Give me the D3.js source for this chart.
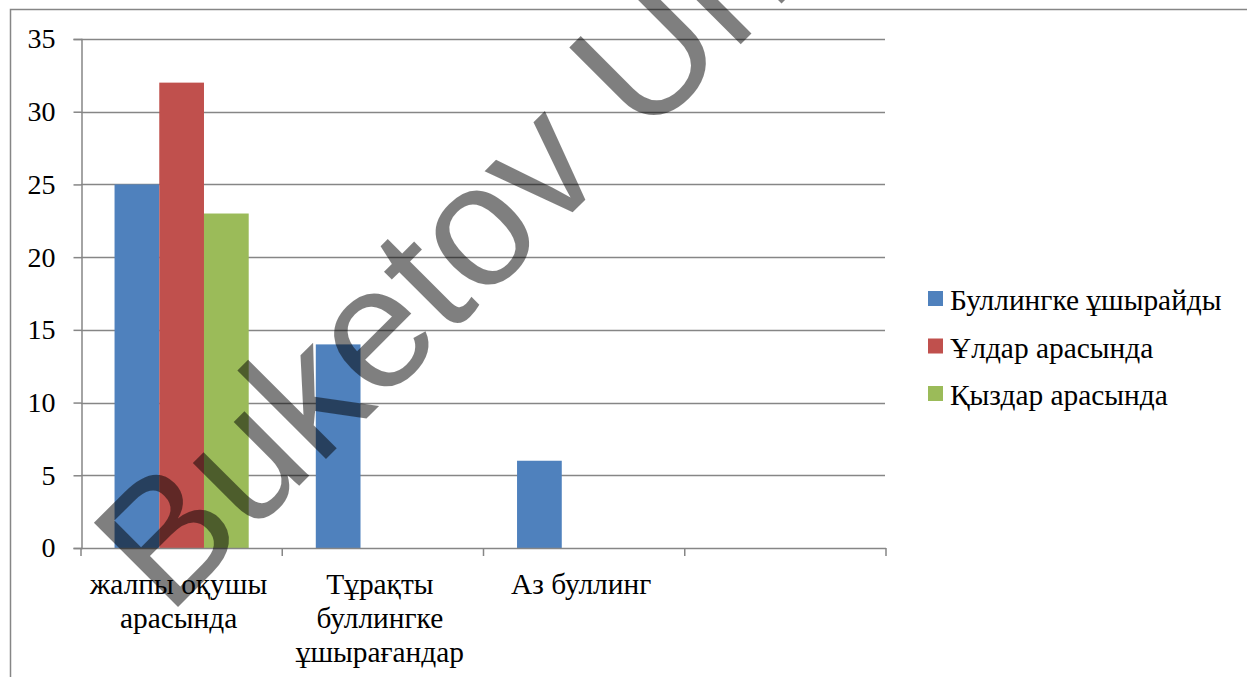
<!DOCTYPE html>
<html>
<head>
<meta charset="utf-8">
<script src="https://cdn.jsdelivr.net/npm/d3@7"></script>
<style>
  body { margin: 0; background: #fff; }
  svg { display: block; }
</style>
</head>
<body>
<div id="chart"></div>
<script>
// Categories (line breaks as in the original axis labels)
const categories = ["жалпы оқушы\nарасында", "Тұрақты\nбуллингке\nұшырағандар", "Аз буллинг", ""];
const seriesNames = ["Буллингке ұшырайды", "Ұлдар арасында", "Қыздар арасында"];
const bullied = [25, 14, 6, null];
const boys = [32, null, null, null];
const girls = [23, null, null, null];
const yTicks = [0, 5, 10, 15, 20, 25, 30, 35];

const colors = ["#4F81BD", "#C0504D", "#9BBB59"];
const grid_color = "#868686";
const serif = "'Liberation Serif', 'Times New Roman', serif";
const label_size = 29.4;

const W = 1247, H = 677;
const plot = {left: 81, right: 886, top: 39, bottom: 548};

const svg = d3.select("#chart").append("svg")
  .attr("width", W).attr("height", H);

svg.append("rect").attr("width", W).attr("height", H).attr("fill", "#fff");

// outer chart border (right and bottom run off the picture)
svg.append("rect")
  .attr("x", 10.5).attr("y", 9.5)
  .attr("width", W + 20).attr("height", H + 20)
  .attr("fill", "none").attr("stroke", grid_color).attr("stroke-width", 1.5);

const y = d3.scaleLinear().domain([0, 35]).range([plot.bottom, plot.top]);
const x0 = d3.scaleBand().domain(categories).range([plot.left, plot.right]);
const x1 = d3.scaleBand().domain(seriesNames)
  .range([0, x0.bandwidth()]).paddingOuter(0.75).paddingInner(0);

// gridlines
svg.append("g").selectAll("line")
  .data(yTicks.filter(d => d > 0))
  .join("line")
  .attr("x1", plot.left).attr("x2", plot.right - 1)
  .attr("y1", d => Math.round(y(d)) + 0.5).attr("y2", d => Math.round(y(d)) + 0.5)
  .attr("stroke", grid_color).attr("stroke-width", 1.5);

// bars
const values = [bullied, boys, girls];
const rows = [];
categories.forEach((c, i) => {
  seriesNames.forEach((s, j) => {
    if (values[j][i] != null) rows.push({cat: c, series: s, value: values[j][i], color: colors[j]});
  });
});

svg.append("g").selectAll("rect")
  .data(rows)
  .join("rect")
  .attr("x", d => x0(d.cat) + x1(d.series))
  .attr("width", x1.bandwidth())
  .attr("y", d => y(d.value))
  .attr("height", d => y(0) - y(d.value))
  .attr("fill", d => d.color);

// y axis
const yAxis = d3.axisLeft(y).tickValues(yTicks).tickSize(8).tickPadding(18);
const gy = svg.append("g").attr("transform", `translate(${plot.left + 0.5},0)`).call(yAxis);
gy.attr("font-family", serif);
gy.select(".domain").attr("stroke", grid_color).attr("stroke-width", 1.5);
gy.selectAll(".tick line").attr("stroke", grid_color).attr("stroke-width", 1.5);
gy.selectAll(".tick text")
  .attr("font-family", serif)
  .attr("font-size", 28).attr("fill", "#000");

// x axis: baseline with ticks at category boundaries
const gx = svg.append("g").attr("font-family", serif);
gx.append("line")
  .attr("x1", plot.left).attr("x2", plot.right)
  .attr("y1", y(0) + 0.5).attr("y2", y(0) + 0.5)
  .attr("stroke", grid_color).attr("stroke-width", 1.5);
gx.selectAll(".cat-tick")
  .data(categories.map(c => x0(c)).concat([plot.right]))
  .join("line")
  .attr("class", "cat-tick")
  .attr("x1", d => d).attr("x2", d => d)
  .attr("y1", y(0)).attr("y2", y(0) + 8)
  .attr("stroke", grid_color).attr("stroke-width", 1.5);

gx.selectAll(".cat-label")
  .data(categories)
  .join("text")
  .attr("class", "cat-label")
  .attr("text-anchor", "middle")
  .attr("font-family", serif)
  .attr("font-size", label_size)
  .attr("fill", "#000")
  .each(function(c) {
    const t = d3.select(this);
    c.split("\n").forEach((line, k) => {
      t.append("tspan")
        .attr("x", x0(c) + x0.bandwidth() / 2 - 3)
        .attr("y", 594 + k * 34)
        .text(line);
    });
  });

// legend
const legend = svg.append("g").attr("transform", "translate(928,0)");
const lg = legend.selectAll("g")
  .data(seriesNames)
  .join("g")
  .attr("transform", (d, i) => `translate(0,${310 + i * 47.5})`);
lg.append("rect")
  .attr("x", 0).attr("y", -19).attr("width", 15).attr("height", 15)
  .attr("fill", (d, i) => colors[i]);
lg.append("text")
  .attr("x", 22).attr("y", 0)
  .attr("font-family", serif)
  .attr("font-size", label_size).attr("fill", "#000")
  .text(d => d);

// watermark
svg.append("text")
  .attr("transform", "translate(168,617) rotate(-45)")
  .attr("font-family", "'Liberation Sans', Arial, sans-serif")
  .attr("font-size", 173)
  .attr("fill", "#000").attr("fill-opacity", 0.5)
  .text("Buketov Uni");
</script>
</body>
</html>
